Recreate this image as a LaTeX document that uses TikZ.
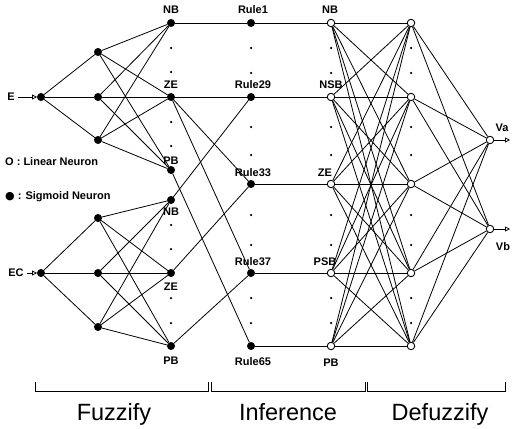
\documentclass[tikz,border=0pt]{standalone}
\usepackage{fontspec}
\setmainfont{Liberation Sans}
\newfontfamily\symfont{DejaVu Sans}
\usetikzlibrary{arrows.meta}
\begin{document}
\begin{tikzpicture}[x=1pt,y=-1pt,
  sig/.style={circle,fill=black,draw=black,inner sep=0pt,minimum size=7.5pt},
  lin/.style={circle,fill=white,draw=black,line width=0.9pt,inner sep=0pt,minimum size=7.5pt},
  dotmark/.style={circle,fill=black,inner sep=0pt,minimum size=2.5pt},
  lab/.style={font=\bfseries\fontsize{11}{11}\selectfont,inner sep=0pt},
  big/.style={font=\fontsize{23.5}{24}\selectfont,inner sep=0pt,anchor=base},
  wire/.style={line width=0.8pt},
  ioarrow/.style={-{Triangle[open,length=5pt,width=5pt]},line width=0.8pt},
  bracket/.style={line width=1pt}]
\useasboundingbox (0,0) rectangle (516,428);

% ---- inputs ----
\node[sig] (e)  at (41,97)  {};
\node[sig] (ec) at (41,273) {};
\node[lab] (elab)  at (11,97)  {E};
\node[lab] (eclab) at (16,273) {EC};
\coordinate (ein)  at (18,97);
\coordinate (ecin) at (27,273);
\draw[ioarrow] (ein) -- (e);
\draw[ioarrow] (ecin) -- (ec);

% ---- fuzzify hidden layer ----
\foreach \n/\y in {e1/52,e2/97,e3/140,c1/218,c2/273,c3/327}
  \node[sig] (h\n) at (98,\y) {};

% ---- membership layer ----
\foreach \n/\y in {nbe/23,zee/97,pbe/170,nbc/200,zec/273,pbc/346}
  \node[sig] (m\n) at (171,\y) {};
\foreach \y in {48,72,122,146,225,249,298,323}
  \node[dotmark] at (171,\y) {};

% ---- rule layer ----
\foreach \n/\y in {1/23,29/97,33/184,37/273,65/346}
  \node[sig] (r\n) at (251,\y) {};
% ---- inference output layer ----
\foreach \n/\y in {1/23,2/97,3/184,4/273,5/346}
  \node[lin] (o\n) at (331,\y) {};
% ---- defuzzify layer ----
\foreach \n/\y in {1/23,2/97,3/184,4/273,5/346}
  \node[lin] (d\n) at (411,\y) {};
\foreach \x in {251,331,411}
  \foreach \y in {48,73,127,155,215,245,298,323}
    \node[dotmark] at (\x,\y) {};

% ---- outputs ----
\node[lin] (va) at (490,140) {};
\node[lin] (vb) at (490,229) {};
\coordinate (vaout) at (510,140);
\coordinate (vbout) at (510,229);
\draw[ioarrow] (va) -- (vaout);
\draw[ioarrow] (vb) -- (vbout);

% ---- connections ----
\foreach \h in {e1,e2,e3} {
  \draw[wire] (e) -- (h\h);
  \foreach \m in {nbe,zee,pbe} \draw[wire] (h\h) -- (m\m);
}
\foreach \h in {c1,c2,c3} {
  \draw[wire] (ec) -- (h\h);
  \foreach \m in {nbc,zec,pbc} \draw[wire] (h\h) -- (m\m);
}
\draw[wire] (mnbe) -- (r1);
\draw[wire] (mzee) -- (r29);
\draw[wire] (mzee) -- (r33);
\draw[wire] (mzee) -- (r37);
\draw[wire] (mpbe) -- (r65);
\draw[wire] (mnbc) -- (r29);
\draw[wire] (mzec) -- (r33);
\draw[wire] (mpbc) -- (r37);
\draw[wire] (r1) -- (o1);
\draw[wire] (r29) -- (o2);
\draw[wire] (r33) -- (o3);
\draw[wire] (r37) -- (o4);
\draw[wire] (r65) -- (o5);
\foreach \i in {1,...,5} {
  \foreach \j in {1,...,5} \draw[wire] (o\i) -- (d\j);
  \draw[wire] (d\i) -- (va);
  \draw[wire] (d\i) -- (vb);
}

% ---- labels ----
\node[lab] at (171,10)  {NB};
\node[lab] at (171,85)  {ZE};
\node[lab] at (171,161) {PB};
\node[lab] at (171,212) {NB};
\node[lab] at (171,287) {ZE};
\node[lab] at (171,361) {PB};
\node[lab] at (253,10)  {Rule1};
\node[lab] at (253,85)  {Rule29};
\node[lab] at (253,173) {Rule33};
\node[lab] at (253,262) {Rule37};
\node[lab] at (253,362) {Rule65};
\node[lab] at (330,10)  {NB};
\node[lab] at (331,85)  {NSB};
\node[lab] at (325,173) {ZE};
\node[lab] at (325,262) {PSB};
\node[lab] at (331,363) {PB};
\node[lab] at (502,128) {Va};
\node[lab] at (503,247) {Vb};
\node[lab,anchor=west] at (5,162) {O : Linear Neuron};
\node[lab,anchor=west] at (5,197) {{\symfont ●} : Sigmoid Neuron};

% ---- stage brackets ----
\draw[bracket] (35,382) -- (35,391) -- (208,391) -- (208,382);
\draw[bracket] (211,382) -- (211,391) -- (365,391) -- (365,382);
\draw[bracket] (367,382) -- (367,391) -- (505,391) -- (505,382);
\node[big] at (114,420) {Fuzzify};
\node[big] at (288,420) {Inference};
\node[big] at (440,420) {Defuzzify};
\end{tikzpicture}
\end{document}
